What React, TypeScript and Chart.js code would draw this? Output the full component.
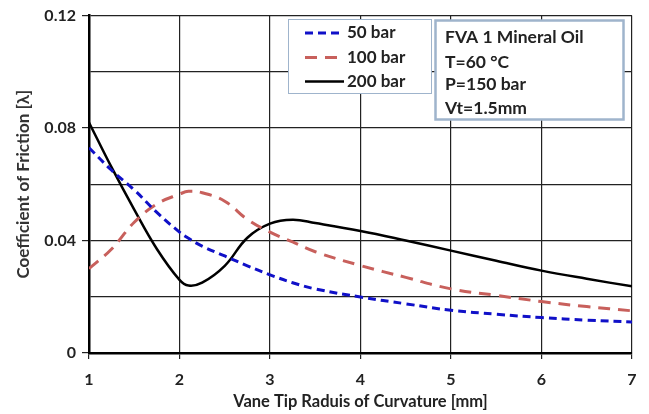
import React, { useEffect, useRef } from "react";
import { Chart, registerables } from "chart.js";

Chart.register(...registerables);

const xValues = [1, 1.25, 1.5, 1.75, 2, 2.1, 2.25, 2.5, 2.75, 3, 3.25, 3.5, 4, 4.5, 5, 5.5, 6, 6.5, 7];
const bar50 = [0.073, 0.065, 0.058, 0.05, 0.043, 0.0408, 0.038, 0.0345, 0.031, 0.0278, 0.025, 0.0228, 0.0199, 0.0175, 0.0152, 0.0138, 0.0126, 0.0117, 0.011];
const bar100 = [0.03, 0.037, 0.0465, 0.053, 0.0565, 0.0575, 0.057, 0.054, 0.0475, 0.043, 0.0395, 0.036, 0.0311, 0.0269, 0.0228, 0.0205, 0.0183, 0.0165, 0.015];
const bar200 = [0.082, 0.066, 0.051, 0.037, 0.026, 0.024, 0.025, 0.031, 0.041, 0.046, 0.0474, 0.0462, 0.0434, 0.04, 0.0364, 0.0328, 0.0293, 0.0264, 0.0237];
const seriesLabels = ["50 bar", "100 bar", "200 bar"];
const noteLines = ["FVA 1 Mineral Oil", "T=60 \u00B0C", "P=150 bar", "Vt=1.5mm"];
const xTitle = "Vane Tip Raduis of Curvature [mm]";
const yTitle = "Coefficient of Friction [\u03BB]";

const FONT = "Lato, 'Open Sans', sans-serif";

const boxesPlugin = {
  id: "boxes",
  afterDraw(chart: any) {
    const ctx = chart.ctx;
    ctx.save();
    // legend box
    const lx = 288, ly = 19, lw = 143, lh = 74;
    ctx.fillStyle = "#ffffff";
    ctx.fillRect(lx, ly, lw, lh);
    ctx.strokeStyle = "#9fb4cc";
    ctx.lineWidth = 1;
    ctx.strokeRect(lx + 0.5, ly + 0.5, lw, lh);
    const ys = [33, 57.5, 81.5];
    chart.data.datasets.forEach((ds: any, i: number) => {
      ctx.beginPath();
      ctx.strokeStyle = ds.borderColor;
      ctx.lineWidth = ds.borderWidth;
      ctx.setLineDash(ds.borderDash || []);
      ctx.moveTo(305, ys[i]);
      ctx.lineTo(344, ys[i]);
      ctx.stroke();
      ctx.setLineDash([]);
      ctx.fillStyle = "#222";
      ctx.font = `bold 17px ${FONT}`;
      ctx.textBaseline = "middle";
      ctx.textAlign = "left";
      ctx.fillText(ds.label, 347, ys[i]);
    });
    // annotation box
    const ax = 435, ay = 20, aw = 188, ah = 99;
    ctx.fillStyle = "#ffffff";
    ctx.fillRect(ax, ay, aw, ah);
    ctx.strokeStyle = "#9fb4cc";
    ctx.strokeRect(ax + 0.5, ay + 0.5, aw, ah);
    ctx.fillStyle = "#222";
    ctx.font = `bold 17.5px ${FONT}`;
    const ay0 = [37, 62, 84.5, 108];
    noteLines.forEach((t, i) => ctx.fillText(t, 445, ay0[i]));
    ctx.restore();
  },
};

export default function App() {
  const ref = useRef<HTMLCanvasElement>(null);
  useEffect(() => {
    document.body.style.margin = "0";
    const mk = (ys: number[]) => xValues.map((x, i) => ({ x, y: ys[i] }));
    const chart = new Chart(ref.current!, {
      type: "line",
      data: {
        datasets: [
          { label: seriesLabels[0], data: mk(bar50), borderColor: "#1010c8", borderWidth: 3, borderDash: [8, 5], pointRadius: 0, tension: 0.4, fill: false },
          { label: seriesLabels[1], data: mk(bar100), borderColor: "#c8605c", borderWidth: 3, borderDash: [12, 8], pointRadius: 0, tension: 0.4, fill: false },
          { label: seriesLabels[2], data: mk(bar200), borderColor: "#000000", borderWidth: 2.5, pointRadius: 0, tension: 0.4, fill: false },
        ],
      },
      options: {
        animation: false,
        responsive: false,
        layout: { padding: { top: 13, right: 17, left: 0, bottom: 0 } },
        plugins: { legend: { display: false }, tooltip: { enabled: false } },
        scales: {
          x: {
            type: "linear",
            min: 1,
            max: 7,
            afterFit: (s: any) => { s.height = 61; },
            ticks: { stepSize: 1, color: "#222", font: { family: FONT, size: 16, weight: "bold" }, padding: 11 },
            grid: { color: "#222", lineWidth: 1.2, tickLength: 6, tickColor: "#222" },
            border: { color: "#000", width: 2.5 },
            title: { display: true, text: xTitle, color: "#222", font: { family: FONT, size: 16.5, weight: "bold" }, padding: { top: 0, bottom: 2 } },
          },
          y: {
            min: 0,
            max: 0.12,
            afterFit: (s: any) => { s.width = 89; },
            ticks: {
              stepSize: 0.02,
              color: "#222",
              font: { family: FONT, size: 16, weight: "bold" },
              padding: 6,
              callback: (v: any) => {
                const k = Math.round(Number(v) * 100);
                return k % 4 === 0 ? String(Number((k / 100).toFixed(2))) : "";
              },
            },
            grid: {
              color: "#222",
              lineWidth: 1.2,
              tickLength: 7,
              tickColor: (c: any) => (Math.round((c.tick?.value ?? 0) * 100) % 4 === 0 ? "#222" : "rgba(0,0,0,0)"),
            },
            border: { color: "#000", width: 2.5 },
            title: { display: true, text: yTitle, color: "#333", font: { family: FONT, size: 17, weight: "bold" }, padding: { top: 13, bottom: 0 } },
          },
        },
      },
      plugins: [boxesPlugin],
    });
    return () => chart.destroy();
  }, []);
  return (
    <div style={{ position: "absolute", left: 0, top: 0, width: 649, height: 414, background: "#fff" }}>
      <canvas ref={ref} width={649} height={414} />
    </div>
  );
}
